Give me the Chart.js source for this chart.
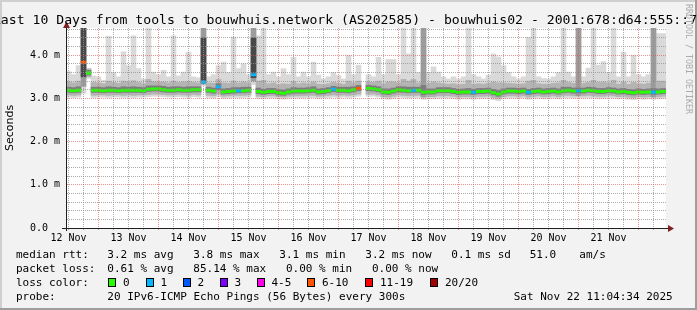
<!DOCTYPE html>
<html>
<head>
<meta charset="utf-8">
<script src="https://cdn.jsdelivr.net/npm/chart.js@4/dist/chart.umd.min.js"></script>
<style>
html,body{margin:0;padding:0;background:#f2f2f2;}
canvas{display:block;}
</style>
</head>
<body>
<canvas id="c" width="697" height="310"></canvas>
<script>
// ---------- text ----------
const titleText = 'Last 10 Days from tools to bouwhuis.network (AS202585) - bouwhuis02 - 2001:678:d64:555::7';
const yAxisTitle = 'Seconds';
const watermarkText = 'RRDTOOL / TOBI OETIKER';

// ---------- axis ticks (hours since 12 Nov 00:00) ----------
const timeAxisMin = 11;
const timeAxisMax = 251;
const xGridHours = [12,18,24,30,36,42,48,54,60,66,72,78,84,90,96,102,108,114,120,126,132,138,144,150,156,162,168,174,180,186,192,198,204,210,216,222,228,234,240,246];
const dayLabelHours = [12,36,60,84,108,132,156,180,204,228];
const dayLabels = ['12 Nov','13 Nov','14 Nov','15 Nov','16 Nov','17 Nov','18 Nov','19 Nov','20 Nov','21 Nov'];
const yTickValues = [0,0.2,0.4,0.6,0.8,1,1.2,1.4,1.6,1.8,2,2.2,2.4,2.6,2.8,3,3.2,3.4,3.6,3.8,4,4.2,4.4,4.6];
const yLabelValues = [0,1,2,3,4];
const yLabelTexts = ['0.0  ','1.0 m','2.0 m','3.0 m','4.0 m'];
const yAxisMax = 4.63;

// ---------- series (ms), 120 bins of 2 hours ----------
const medianMs = [
3.19,3.18,3.19,3.84,3.59,3.19,3.19,3.18,3.19,3.19,
3.18,3.19,3.19,3.19,3.19,3.18,3.21,3.22,3.22,3.20,
3.19,3.19,3.20,3.19,3.19,3.20,3.20,3.38,3.19,3.17,
3.27,3.15,3.16,3.17,3.18,3.18,3.19,3.55,3.16,3.14,
3.16,3.16,3.13,3.12,3.15,3.17,3.17,3.17,3.18,3.19,
3.15,3.16,3.18,3.21,3.19,3.19,3.18,3.20,3.23,null,
3.23,3.22,3.20,3.15,3.14,3.17,3.20,3.19,3.18,3.19,
3.19,3.14,3.15,3.15,3.18,3.18,3.18,3.16,3.14,3.15,
3.15,3.14,3.16,3.16,3.17,3.13,3.10,3.15,3.17,3.17,
3.16,3.17,3.14,3.16,3.17,3.15,3.16,3.17,3.15,3.18,
3.19,3.17,3.18,3.17,3.19,3.18,3.16,3.16,3.18,3.17,
3.15,3.16,3.14,3.13,3.15,3.14,3.15,3.14,3.15,3.16];

const lossCount = [
0,0,0,7,0,0,0,0,0,0,
0,0,0,0,0,0,0,0,0,0,
0,0,0,0,0,0,0,1,0,0,
1,0,0,0,1,0,0,1,0,0,
0,0,0,0,0,0,0,0,0,0,
0,0,0,1,0,0,0,0,7,null,
0,0,0,0,0,0,0,0,0,1,
0,0,0,0,0,0,0,0,0,0,
0,1,0,0,0,0,0,0,0,0,
0,0,1,0,0,0,0,0,0,0,
0,0,1,0,0,0,0,0,0,0,
0,0,0,0,0,0,0,1,0,0];

const pingMin = [
3.03,3.02,3.03,3.12,3.46,3.02,3.03,3.03,3.02,3.03,
3.03,3.02,3.03,3.02,3.03,3.03,3.04,3.05,3.05,3.04,
3.03,3.03,3.04,3.03,3.02,3.04,3.03,3.30,3.02,3.01,
3.04,3.00,3.01,3.02,3.02,3.02,3.03,3.32,3.00,2.99,
3.01,3.01,2.99,2.98,3.00,3.01,3.01,3.01,3.02,3.02,
3.00,3.01,3.02,3.03,3.02,3.03,3.02,3.03,3.05,null,
3.05,3.05,3.03,2.99,2.98,3.00,3.03,3.02,3.01,3.02,
3.02,2.98,2.99,2.99,3.01,3.01,3.01,3.00,2.98,2.99,
2.99,2.98,3.00,3.00,3.01,2.97,2.95,2.99,3.01,3.01,
3.00,3.01,2.98,3.00,3.01,2.99,3.00,3.01,2.99,3.02,
3.02,3.01,3.01,3.01,3.02,3.01,3.00,3.00,3.02,3.01,
2.99,3.00,2.98,2.97,2.99,2.98,2.99,2.98,2.99,3.00];

const ping10 = [
3.08,3.07,3.08,3.28,3.50,3.07,3.08,3.08,3.07,3.08,
3.08,3.07,3.08,3.07,3.08,3.08,3.09,3.10,3.10,3.09,
3.08,3.08,3.09,3.08,3.07,3.09,3.08,3.33,3.07,3.06,
3.10,3.05,3.06,3.07,3.07,3.07,3.08,3.40,3.05,3.04,
3.06,3.06,3.04,3.03,3.05,3.06,3.06,3.06,3.07,3.07,
3.05,3.06,3.07,3.08,3.07,3.08,3.07,3.08,3.10,null,
3.10,3.10,3.08,3.04,3.03,3.05,3.08,3.07,3.06,3.07,
3.07,3.03,3.04,3.04,3.06,3.06,3.06,3.05,3.03,3.04,
3.04,3.03,3.05,3.05,3.06,3.02,3.00,3.04,3.06,3.06,
3.05,3.06,3.03,3.05,3.06,3.04,3.05,3.06,3.04,3.07,
3.07,3.06,3.06,3.06,3.07,3.06,3.05,3.05,3.07,3.06,
3.04,3.05,3.03,3.02,3.04,3.03,3.04,3.03,3.04,3.05];

const ping25 = [
3.14,3.13,3.14,3.50,3.54,3.14,3.14,3.13,3.14,3.14,
3.13,3.14,3.14,3.14,3.14,3.13,3.16,3.17,3.17,3.15,
3.14,3.14,3.15,3.14,3.14,3.15,3.15,3.36,3.14,3.12,
3.20,3.10,3.11,3.12,3.13,3.13,3.14,3.48,3.11,3.09,
3.11,3.11,3.08,3.07,3.10,3.12,3.12,3.12,3.13,3.14,
3.10,3.11,3.13,3.16,3.14,3.14,3.13,3.15,3.18,null,
3.18,3.17,3.15,3.10,3.09,3.12,3.15,3.14,3.13,3.14,
3.14,3.09,3.10,3.10,3.13,3.13,3.13,3.11,3.09,3.10,
3.10,3.09,3.11,3.11,3.12,3.08,3.05,3.10,3.12,3.12,
3.11,3.12,3.09,3.11,3.12,3.10,3.11,3.12,3.10,3.13,
3.14,3.12,3.13,3.12,3.14,3.13,3.11,3.11,3.13,3.12,
3.10,3.11,3.09,3.08,3.10,3.09,3.10,3.09,3.10,3.11];

const ping75 = [
3.26,3.25,3.27,4.65,3.65,3.26,3.26,3.25,3.27,3.26,
3.25,3.27,3.26,3.27,3.26,3.25,3.29,3.29,3.29,3.28,
3.26,3.27,3.27,3.26,3.27,3.27,3.27,4.40,3.26,3.24,
3.34,3.22,3.23,3.25,3.25,3.26,3.26,4.40,3.24,3.21,
3.23,3.23,3.20,3.19,3.22,3.25,3.24,3.24,3.25,3.27,
3.22,3.23,3.25,3.28,3.26,3.26,3.26,3.27,3.30,null,
3.30,3.29,3.27,3.22,3.22,3.24,3.27,3.27,3.26,3.26,
3.26,3.30,3.22,3.22,3.25,3.25,3.25,3.23,3.21,3.22,
3.23,3.21,3.23,3.23,3.24,3.21,3.18,3.22,3.24,3.24,
3.23,3.24,3.21,3.23,3.24,3.22,3.23,3.24,3.22,3.26,
3.26,3.24,3.24,3.24,3.26,3.25,3.23,3.23,3.25,3.24,
3.22,3.23,3.21,3.20,3.22,3.21,3.22,3.23,3.22,3.23];

const ping90 = [
3.38,3.36,3.40,4.65,3.68,3.37,3.36,3.34,3.40,3.37,
3.35,3.40,3.38,3.41,3.37,3.34,3.44,3.39,3.38,3.38,
3.36,3.40,3.37,3.38,3.39,3.37,3.36,4.65,3.36,3.35,
3.44,3.36,3.35,3.40,3.36,3.38,3.36,4.65,3.40,3.42,
3.34,3.36,3.32,3.34,3.33,3.39,3.34,3.36,3.34,3.38,
3.33,3.32,3.34,3.37,3.35,3.33,3.40,3.36,3.40,null,
3.38,3.37,3.40,3.34,3.38,3.38,3.36,3.44,3.40,3.44,
3.36,4.65,3.35,3.38,3.36,3.34,3.33,3.34,3.32,3.33,
3.42,3.33,3.34,3.33,3.35,3.38,3.36,3.36,3.35,3.34,
3.33,3.34,3.40,3.42,3.34,3.33,3.33,3.35,3.36,3.42,
3.37,3.35,4.65,3.35,3.37,3.42,3.37,3.38,3.36,3.42,
3.33,3.38,3.33,3.37,3.34,3.33,3.35,4.65,3.40,3.40];

const pingMax = [
3.62,3.55,3.76,4.65,3.70,3.52,3.50,3.42,4.44,3.61,
3.50,4.08,3.76,4.45,3.69,3.45,4.65,3.61,3.55,3.65,
3.50,4.45,3.52,3.61,4.07,3.50,3.48,4.65,3.50,3.55,
3.76,3.84,3.60,4.42,3.69,3.80,3.55,4.65,4.45,4.65,
3.55,3.61,3.50,3.69,3.55,3.95,3.50,3.61,3.50,3.84,
3.54,3.45,3.50,3.60,3.53,3.45,4.00,3.55,3.77,null,
3.55,3.50,3.95,3.55,3.90,3.90,3.55,4.65,4.03,4.65,
3.60,4.65,3.60,3.73,3.61,3.50,3.45,3.50,3.45,3.50,
4.65,3.55,3.50,3.45,3.54,4.03,3.96,3.76,3.60,3.50,
3.45,3.50,4.41,4.65,3.50,3.46,3.45,3.50,3.60,4.65,
3.61,3.50,4.65,3.50,3.70,4.65,3.77,3.85,3.60,4.65,
3.50,4.07,3.50,4.00,3.55,3.50,3.55,4.65,4.50,4.50];

// bins (categories): start hour of each 2-hour bin
const binLabels = medianMs.map((_, i) => 'h' + (timeAxisMin + 2 * i));

// ---------- legend / summary text ----------
const lossLabels = ['0','1','2','3','4-5','6-10','11-19','20/20'];
const lossUpper = [0,1,2,3,5,10,19,20];
const lossColors = ['#26ff00','#00b8ff','#0059ff','#7e00ff','#ff00ea','#ff5500','#ff0000','#a10000'];
const rttStats = ['3.2 ms avg','3.8 ms max','3.1 ms min','3.2 ms now','0.1 ms sd','51.0','am/s'];
const lossStats = ['0.61 % avg','85.14 % max','0.00 % min','0.00 % now'];
const probeText = '20 IPv6-ICMP Echo Pings (56 Bytes) every 300s';
const stampText = 'Sat Nov 22 11:04:34 2025';

function lossColor(n) {
  for (let k = 0; k < lossUpper.length; k++) if ((n || 0) <= lossUpper[k]) return lossColors[k];
  return lossColors[lossColors.length - 1];
}
function band(lo, hi) {
  return lo.map((v, i) => (v == null || hi[i] == null) ? null : [v, hi[i]]);
}
// smoke shade: a band that spreads widely (many pings far from the median) looks darker
function shade(lo, hi, limit, normal, dense) {
  return lo.map((v, i) => (v != null && hi[i] != null && hi[i] - v > limit) ? dense : normal);
}

const GRID = 'rgba(143,143,143,0.75)';
const MGRID = 'rgba(222,79,79,0.6)';
const AXIS = '#1f1f1f';
const ARROW = '#801f1f';
const MONO = '"DejaVu Sans Mono"';

const rrdPlugin = {
  id: 'rrd',
  beforeDraw(chart) {
    const {ctx, chartArea: a, width: W, height: H} = chart;
    ctx.save();
    ctx.fillStyle = '#f2f2f2'; ctx.fillRect(0, 0, W, H);
    ctx.fillStyle = '#cfcfcf'; ctx.fillRect(0, 0, W, 2); ctx.fillRect(0, 0, 2, H);
    ctx.fillStyle = '#9e9e9e'; ctx.fillRect(0, H - 2, W, 2); ctx.fillRect(W - 2, 0, 2, H);
    ctx.fillStyle = '#ffffff'; ctx.fillRect(a.left, a.top, a.right - a.left, a.bottom - a.top);
    ctx.restore();
  },
  afterDraw(chart) {
    const {ctx, chartArea: a} = chart;
    ctx.save();
    ctx.strokeStyle = AXIS; ctx.lineWidth = 1;
    ctx.beginPath();
    ctx.moveTo(62, a.bottom + 0.5); ctx.lineTo(669, a.bottom + 0.5);
    ctx.moveTo(a.left + 0.5, a.bottom + 3); ctx.lineTo(a.left + 0.5, a.top - 1);
    ctx.stroke();
    ctx.fillStyle = ARROW;
    ctx.beginPath();
    ctx.moveTo(668, a.bottom - 3); ctx.lineTo(674, a.bottom + 0.5); ctx.lineTo(668, a.bottom + 4); ctx.closePath();
    ctx.fill();
    ctx.beginPath();
    ctx.moveTo(a.left - 3, a.top); ctx.lineTo(a.left + 0.5, a.top - 6.5); ctx.lineTo(a.left + 4, a.top); ctx.closePath();
    ctx.fill();

    ctx.fillStyle = '#000';
    ctx.font = '13.15px ' + MONO;
    ctx.textAlign = 'center'; ctx.textBaseline = 'alphabetic';
    ctx.fillText(titleText, 345, 24);

    ctx.font = '11px ' + MONO;
    ctx.textAlign = 'left';
    const L1 = 257.5, L2 = 271.5, L3 = 285.5, L4 = 299.5;
    ctx.fillText('median rtt:', 16, L1);
    const rttX = [107.3, 193.3, 279.3, 365.3, 451.3, 529.7, 579.3];
    rttStats.forEach((t, i) => ctx.fillText(t, rttX[i], L1));
    ctx.fillText('packet loss:', 16, L2);
    const lossX = [107.3, 193.3, 286, 372];
    lossStats.forEach((t, i) => ctx.fillText(t, lossX[i], L2));
    ctx.fillText('loss color:', 16, L3);
    const boxX = [108, 145.5, 182.5, 219.5, 256.5, 307, 365, 430];
    lossLabels.forEach((t, i) => {
      ctx.fillStyle = lossColors[i];
      ctx.fillRect(Math.round(boxX[i]), 278, 8, 9);
      ctx.strokeStyle = '#000'; ctx.lineWidth = 1;
      ctx.strokeRect(Math.round(boxX[i]) + 0.5, 278.5, 7, 8);
      ctx.fillStyle = '#000';
      ctx.fillText(t, boxX[i] + 15, L3);
    });
    ctx.fillText('probe:', 16, L4);
    ctx.fillText(probeText, 107.3, L4);
    ctx.fillText(stampText, 513.7, L4);

    ctx.save();
    ctx.translate(688, 4);
    ctx.rotate(Math.PI / 2);
    ctx.font = '8.3px ' + MONO;
    ctx.fillStyle = '#ababab';
    ctx.textBaseline = 'middle';
    ctx.fillText(watermarkText, 0, 0);
    ctx.restore();
    ctx.restore();
  }
};

new Chart(document.getElementById('c'), {
  type: 'bar',
  data: {
    labels: binLabels,
    datasets: [
      {
        type: 'line', label: 'median rtt', data: medianMs, showLine: false,
        pointStyle: 'line', pointRadius: 2.5, pointHoverRadius: 2.5,
        pointBorderWidth: 3, pointHoverBorderWidth: 3,
        pointBorderColor: lossCount.map(lossColor), pointBackgroundColor: lossCount.map(lossColor),
        order: 0
      },
      { label: 'p25-p75', data: band(ping25, ping75), backgroundColor: shade(ping25, ping75, 0.5, '#7c7c7c', '#484848'), order: 1 },
      { label: 'p10-p90', data: band(ping10, ping90), backgroundColor: shade(ping10, ping90, 1.0, '#b4b4b4', '#9c9c9c'), order: 2 },
      { label: 'min-max', data: band(pingMin, pingMax), backgroundColor: '#d9d9d9', order: 3 }
    ]
  },
  options: {
    responsive: false, maintainAspectRatio: false, devicePixelRatio: 1, animation: false, events: [],
    layout: { padding: { left: 0, top: 28, right: 31, bottom: 0 } },
    datasets: { bar: { grouped: false, barPercentage: 1, categoryPercentage: 1, borderWidth: 0 } },
    plugins: { legend: { display: false }, tooltip: { enabled: false }, title: { display: false } },
    scales: {
      x: { type: 'category', display: false, offset: true, grid: { display: false } },
      hours: {
        type: 'linear', axis: 'x', position: 'bottom', min: timeAxisMin, max: timeAxisMax,
        offset: false, bounds: 'data', beginAtZero: false,
        afterBuildTicks: s => { s.ticks = xGridHours.map(v => ({ value: v })); },
        afterFit: s => { s.height = 82; },
        grid: {
          z: 1, lineWidth: 1, drawTicks: true, tickLength: 2, offset: false,
          color: c => (c.tick && c.tick.value % 24 === 0) ? MGRID : GRID,
          tickColor: c => (c.tick && c.tick.value % 24 === 0) ? MGRID : GRID
        },
        border: { display: true, color: AXIS, width: 1, dash: [1, 1], z: 2 },
        ticks: {
          autoSkip: false, maxRotation: 0, minRotation: 0, padding: 2, color: '#000',
          font: { family: 'DejaVu Sans Mono', size: 10 },
          callback: v => { const k = dayLabelHours.indexOf(v); return k >= 0 ? dayLabels[k] : ''; }
        }
      },
      y: {
        type: 'linear', min: 0, max: yAxisMax, offset: false,
        afterBuildTicks: s => { s.ticks = yTickValues.map(v => ({ value: v })); },
        afterFit: s => { s.width = 66; },
        grid: {
          z: 1, lineWidth: 1, drawTicks: false, offset: false,
          color: c => (c.tick && Math.abs(c.tick.value - Math.round(c.tick.value)) < 1e-9) ? MGRID : GRID
        },
        border: { display: true, color: AXIS, width: 1, dash: [1, 1], z: 2 },
        ticks: {
          autoSkip: false, padding: 6, color: '#000', font: { family: 'DejaVu Sans Mono', size: 10 },
          callback: v => { const k = yLabelValues.indexOf(Math.round(v * 10) / 10); return k >= 0 ? yLabelTexts[k] : ''; }
        },
        title: {
          display: true, text: yAxisTitle, color: '#000',
          font: { family: 'DejaVu Sans', size: 11 }, padding: { top: 4, bottom: 0 }
        }
      }
    }
  },
  plugins: [rrdPlugin]
});
</script>
</body>
</html>
